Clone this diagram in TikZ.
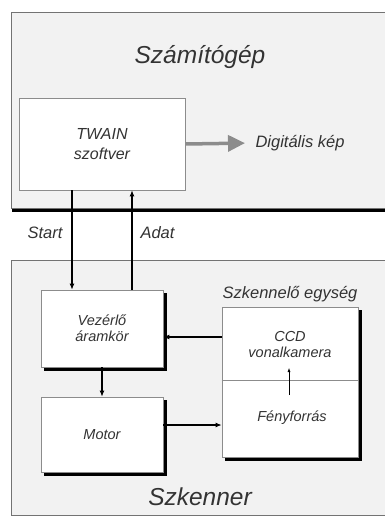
\documentclass[tikz,border=0pt]{standalone}
\usepackage{fontspec}
\setmainfont{Liberation Sans}
\usetikzlibrary{arrows.meta}

\begin{document}
\begin{tikzpicture}[x=1pt,y=-1pt,
    keret/.style={draw=black!55, line width=0.8pt, fill=black!5, anchor=north west},
    doboz/.style={draw=black!45, line width=0.7pt, fill=white, align=center, text=black!80,
      font=\fontsize{14.5}{16}\selectfont\itshape},
    arnyek/.style={fill=black},
    szoveg/.style={align=center, text=black!80, font=\fontsize{14.5}{16}\selectfont\itshape},
    felirat/.style={text=black!80, font=\fontsize{16.5}{20}\selectfont\itshape},
    cim/.style={text=black!80, font=\fontsize{24.5}{28}\selectfont\itshape},
    nyil/.style={-{Latex[length=6pt,width=5pt]}, line width=1.1pt}]
  \useasboundingbox (0,0) rectangle (384,517);

  % Keretek
  \node[keret, minimum width=385, minimum height=196] (gep) at (11,12) {};
  \fill[arnyek] ([xshift=1pt]gep.south west) rectangle ([shift={(2pt,-3.5pt)}]gep.south east);
  \node[keret, minimum width=385, minimum height=255] (szk) at (11,260) {};
  \node[cim] (gepcim) at (200,57) {Számítógép};
  \node[cim] (szkcim) at (200,497) {Szkenner};

  % Szamitogep
  \node[doboz, minimum width=166, minimum height=92, font=\fontsize{16}{20}\selectfont\itshape] (twain) at (102,144) {TWAIN\\szoftver};
  \node[felirat, anchor=west] (kep) at (252,143) {Digitális kép};
  \draw[draw=black!45, line width=3.5pt, shorten >=7pt, -{Triangle[length=17pt,width=16pt]}] (twain.east) -- (kep.west);

  % Arnyekok
  \fill[arnyek] (44,293) rectangle (167,371);
  \fill[arnyek] (44,400) rectangle (167,476);
  \fill[arnyek] (225,310) rectangle (362,461);

  % Szkenner
  \node[doboz, minimum width=122, minimum height=77] (vez) at (102,328.5) {Vezérlő\\áramkör};
  \node[doboz, minimum width=122, minimum height=75] (motor) at (102,434.5) {Motor};
  \node[doboz, minimum width=136, minimum height=150] (egys) at (290,382) {};
  \node[felirat] (egyscim) at (290,294) {Szkennelő egység};
  \coordinate (hatar) at (290,380);
  \draw[draw=black!45, line width=0.7pt] (hatar -| egys.west) -- (hatar -| egys.east);
  \node[szoveg] (ccd) at (290,345) {CCD\\vonalkamera};
  \node[szoveg] (feny) at (292,418) {Fényforrás};
  \coordinate (fa) at (289,395);
  \coordinate (fb) at (289,368);
  \draw[-{Latex[length=4pt,width=3pt]}, line width=0.5pt] (fa) -- (fb);

  % Jelek
  \draw[nyil] ([xshift=-30pt]twain.south) -- ([xshift=-30pt]vez.north);
  \draw[nyil] ([xshift=30pt]vez.north) -- ([xshift=30pt]twain.south);
  \node[felirat, anchor=east] (start) at (66,233) {Start};
  \node[felirat, anchor=west] (adat) at (137,233) {Adat};
  \draw[nyil] (vez.south) -- (motor.north);
  \coordinate (y1) at (0,337);
  \coordinate (y2) at (0,425);
  \draw[nyil] (egys.west |- y1) -- (vez.east |- y1);
  \draw[nyil] (motor.east |- y2) -- (egys.west |- y2);
\end{tikzpicture}
\end{document}
